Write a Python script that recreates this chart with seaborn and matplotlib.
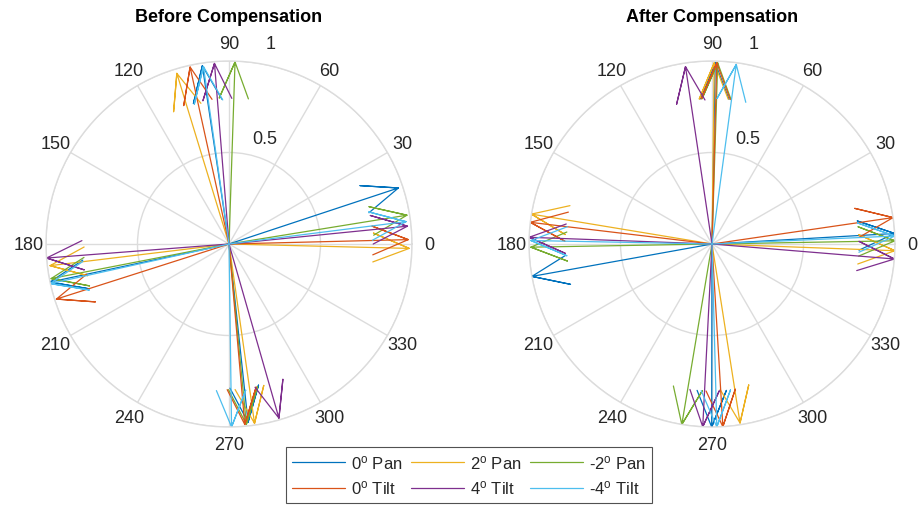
import numpy as np
import pandas as pd
import matplotlib
matplotlib.use("Agg")
import matplotlib.pyplot as plt
import seaborn as sns
from matplotlib.lines import Line2D

# ---- data: direction (deg) and magnitude of the four arrows of each series ----
series_labels = ["0$^{\\mathrm{o}}$ Pan", "2$^{\\mathrm{o}}$ Pan", "-2$^{\\mathrm{o}}$ Pan",
                 "0$^{\\mathrm{o}}$ Tilt", "4$^{\\mathrm{o}}$ Tilt", "-4$^{\\mathrm{o}}$ Tilt"]

before_pan0_deg = [18.3, 98.5, 192.0, 276.1]
before_pan0_mag = [0.975, 0.985, 1.00, 0.98]
before_pan2_deg = [358.6, 107.0, 186.9, 278.1]
before_pan2_mag = [0.985, 0.975, 0.985, 0.99]
before_panm2_deg = [9.2, 88.1, 191.0, 275.5]
before_panm2_mag = [0.985, 0.995, 0.99, 0.99]
before_tilt0_deg = [1.4, 102.4, 197.7, 275.0]
before_tilt0_mag = [0.98, 0.99, 0.99, 0.99]
before_tilt4_deg = [5.7, 94.6, 184.4, 286.0]
before_tilt4_mag = [0.98, 0.99, 1.00, 0.99]
before_tiltm4_deg = [7.2, 98.2, 192.5, 270.8]
before_tiltm4_mag = [0.975, 0.98, 1.00, 1.00]

after_pan0_deg = [3.3, 89.0, 190.2, 269.9]
after_pan0_mag = [1.00, 0.99, 1.00, 1.00]
after_pan2_deg = [357.9, 89.3, 170.6, 278.9]
after_pan2_mag = [1.00, 0.99, 1.00, 0.99]
after_panm2_deg = [1.0, 88.2, 181.0, 260.5]
after_panm2_mag = [1.00, 0.99, 0.99, 1.00]
after_tilt0_deg = [8.3, 88.5, 173.2, 273.4]
after_tilt0_mag = [1.00, 0.99, 1.00, 1.00]
after_tilt4_deg = [355.3, 98.5, 177.9, 267.1]
after_tilt4_mag = [1.00, 0.98, 1.00, 1.00]
after_tiltm4_deg = [2.5, 82.3, 178.9, 271.5]
after_tiltm4_mag = [1.00, 0.99, 0.99, 1.00]

theta_ticks = list(range(0, 360, 30))
r_ticks = [0.5, 1.0]
r_tick_labels = ["0.5", "1"]

before_sets = [(before_pan0_deg, before_pan0_mag), (before_pan2_deg, before_pan2_mag),
               (before_panm2_deg, before_panm2_mag), (before_tilt0_deg, before_tilt0_mag),
               (before_tilt4_deg, before_tilt4_mag), (before_tiltm4_deg, before_tiltm4_mag)]
after_sets = [(after_pan0_deg, after_pan0_mag), (after_pan2_deg, after_pan2_mag),
              (after_panm2_deg, after_panm2_mag), (after_tilt0_deg, after_tilt0_mag),
              (after_tilt4_deg, after_tilt4_mag), (after_tiltm4_deg, after_tiltm4_mag)]

colors = ["#0072BD", "#EDB120", "#77AC30", "#D95319", "#7E2F8E", "#4DBEEE"]

# compass-style arrow: shaft from the origin plus a two-wing head
ARROW = np.array([0, 1, 0.8 + 0.08j, 1, 0.8 - 0.08j])


def arrow_frame(sets):
    rows = []
    for name, (degs, mags) in zip(series_labels, sets):
        for k, (d, m) in enumerate(zip(degs, mags)):
            z = m * np.exp(1j * np.deg2rad(d))
            for p in ARROW * z:
                rows.append({"series": name, "unit": f"{name}_{k}",
                             "theta": np.angle(p), "r": abs(p)})
    return pd.DataFrame(rows)


sns.set_style("white")
plt.rcParams["font.family"] = ["Liberation Sans", "DejaVu Sans"]
plt.rcParams["mathtext.fontset"] = "custom"
plt.rcParams["mathtext.rm"] = "Liberation Sans"
plt.rcParams["mathtext.it"] = "Liberation Sans:italic"
plt.rcParams["mathtext.bf"] = "Liberation Sans:bold"

W, H = 924, 506
fig = plt.figure(figsize=(W / 100, H / 100), dpi=100)
fig.patch.set_facecolor("white")

R = 183
grid_col = "#DCDCDC"
r_label_offsets = [(20, 15), (10, 20)]

for cx, title, sets in [(229, "Before Compensation", before_sets),
                        (712, "After Compensation", after_sets)]:
    ax = fig.add_axes([(cx - R) / W, (H - 245 - R) / H, 2 * R / W, 2 * R / H],
                      projection="polar")
    df = arrow_frame(sets)
    sns.lineplot(data=df, x="theta", y="r", hue="series", hue_order=series_labels,
                 palette=colors, units="unit", estimator=None, sort=False,
                 legend=False, linewidth=0.9, ax=ax)
    ax.set_xlabel("")
    ax.set_ylabel("")
    ax.set_ylim(0, 1)
    ax.set_thetagrids(theta_ticks, [str(t) for t in theta_ticks], fontsize=13)
    ax.tick_params(axis="x", pad=2, colors="#262626")
    ax.set_rticks(r_ticks)
    ax.set_yticklabels([])
    for r, lab, (ox, oy) in zip(r_ticks, r_tick_labels, r_label_offsets):
        ax.annotate(lab, xy=(np.deg2rad(80), r), xytext=(ox, oy),
                    textcoords="offset pixels", ha="center", va="center",
                    fontsize=13, color="#262626")
    ax.grid(True, color=grid_col, linewidth=1.0)
    ax.spines["polar"].set_color(grid_col)
    ax.spines["polar"].set_linewidth(1.0)
    ax.set_facecolor("white")
    fig.text(cx / W, 1 - 18 / H, title, ha="center", va="center",
             fontsize=13, fontweight="bold", color="black")

# legend laid out row by row (three per row)
order = [0, 3, 1, 4, 2, 5]
handles = [Line2D([0], [0], color=colors[i], linewidth=0.9) for i in order]
labels = [series_labels[i] for i in order]
leg = fig.legend(handles, labels, ncol=3, loc="center",
                 bbox_to_anchor=(469 / W, 1 - 476 / H), fontsize=12,
                 frameon=True, fancybox=False, edgecolor="#262626",
                 handlelength=3.2, handletextpad=0.35, columnspacing=0.5,
                 labelspacing=0.45, borderpad=0.35, borderaxespad=0)
leg.get_frame().set_linewidth(0.8)

fig.savefig("out.png", dpi=100, facecolor="white")
